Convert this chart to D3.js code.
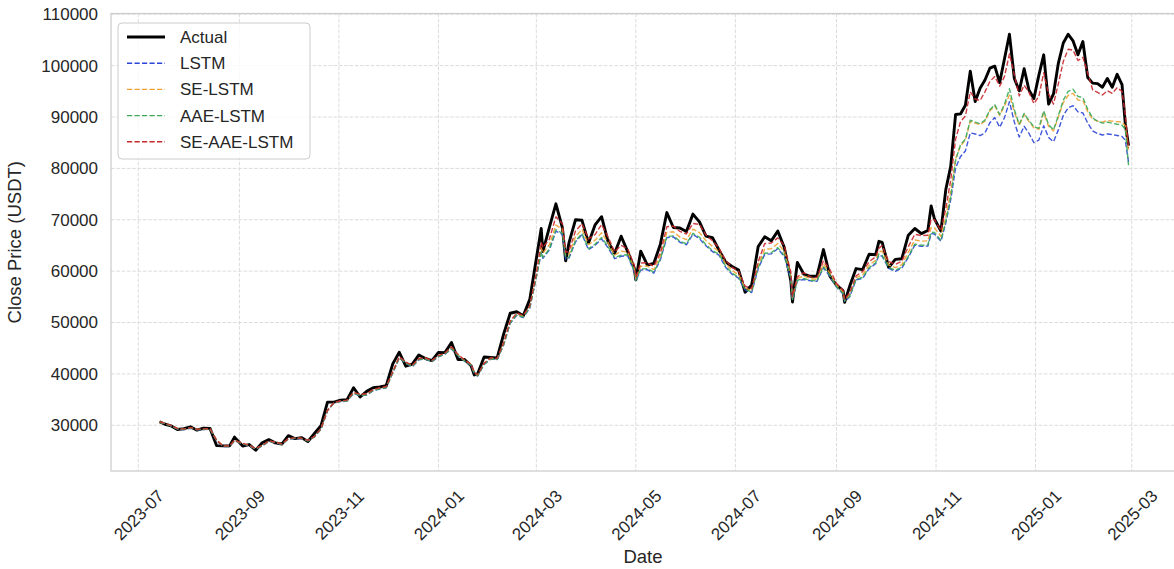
<!DOCTYPE html>
<html><head><meta charset="utf-8">
<script src="https://cdn.jsdelivr.net/npm/d3@7"></script>
<style>body{margin:0;background:#fff;} svg{display:block;font-family:"Liberation Sans",Arial,sans-serif;}</style>
</head><body><svg id="chart" width="1174" height="569"></svg>
<script>
const dates = [
"2023-07-14","2023-07-17","2023-07-21","2023-07-25","2023-07-29","2023-08-02","2023-08-06","2023-08-10","2023-08-14","2023-08-18",
"2023-08-22","2023-08-26","2023-08-29","2023-09-03","2023-09-07","2023-09-11","2023-09-15","2023-09-19","2023-09-23","2023-09-27",
"2023-10-01","2023-10-05","2023-10-09","2023-10-13","2023-10-17","2023-10-21","2023-10-25","2023-10-29","2023-11-02","2023-11-06",
"2023-11-10","2023-11-14","2023-11-18","2023-11-22","2023-11-26","2023-11-30","2023-12-04","2023-12-08","2023-12-12","2023-12-16",
"2023-12-20","2023-12-24","2023-12-28","2024-01-01","2024-01-05","2024-01-09","2024-01-13","2024-01-17","2024-01-21","2024-01-23",
"2024-01-25","2024-01-29","2024-02-02","2024-02-06","2024-02-10","2024-02-14","2024-02-18","2024-02-22","2024-02-26","2024-03-01",
"2024-03-04","2024-03-05","2024-03-09","2024-03-13","2024-03-17","2024-03-19","2024-03-21","2024-03-25","2024-03-29","2024-04-02",
"2024-04-06","2024-04-10","2024-04-14","2024-04-18","2024-04-22","2024-04-26","2024-04-30","2024-05-01","2024-05-04","2024-05-08",
"2024-05-12","2024-05-16","2024-05-20","2024-05-24","2024-05-28","2024-06-01","2024-06-05","2024-06-09","2024-06-13","2024-06-17",
"2024-06-21","2024-06-25","2024-06-29","2024-07-03","2024-07-07","2024-07-11","2024-07-15","2024-07-19","2024-07-23","2024-07-27",
"2024-07-31","2024-08-04","2024-08-05","2024-08-08","2024-08-12","2024-08-16","2024-08-20","2024-08-24","2024-08-28","2024-09-01",
"2024-09-05","2024-09-06","2024-09-09","2024-09-13","2024-09-17","2024-09-21","2024-09-25","2024-09-27","2024-09-29","2024-10-03",
"2024-10-07","2024-10-11","2024-10-15","2024-10-19","2024-10-23","2024-10-27","2024-10-29","2024-10-31","2024-11-04","2024-11-07",
"2024-11-10","2024-11-13","2024-11-16","2024-11-19","2024-11-22","2024-11-25","2024-11-28","2024-12-01","2024-12-04","2024-12-07",
"2024-12-10","2024-12-13","2024-12-16","2024-12-19","2024-12-22","2024-12-25","2024-12-28","2024-12-31","2025-01-03","2025-01-06",
"2025-01-09","2025-01-12","2025-01-15","2025-01-18","2025-01-21","2025-01-24","2025-01-27","2025-01-30","2025-02-02","2025-02-05",
"2025-02-08","2025-02-11","2025-02-14","2025-02-17","2025-02-20","2025-02-23","2025-02-25","2025-02-27"];

const actual = [
30700,30250,29900,29180,29350,29700,29050,29420,29400,26050,
26000,26000,27700,25950,26250,25150,26600,27200,26580,26350,
27980,27400,27600,26850,28400,29900,34500,34500,34900,35000,
37300,35500,36600,37300,37450,37700,41950,44200,41500,41900,
43700,43000,42600,44200,44150,46100,42800,42800,41600,39800,
40000,43300,43200,43100,47800,51800,52100,51300,54500,62400,
68300,63800,68500,73100,68400,62000,65500,70000,69900,65500,
69000,70600,65700,63500,66800,63800,60600,58300,63900,61200,
61500,65200,71400,68500,68400,67700,71100,69600,66800,66500,
64100,61800,60900,60200,55900,57300,64800,66700,65900,67800,
64600,58100,54000,61700,59400,59000,59000,64200,59000,57300,
56200,53950,57000,60500,60300,63300,63200,65800,65600,60700,
62300,62400,67000,68300,67300,67900,72700,70200,67800,75900,
80400,90500,90600,92300,98900,93000,95600,97200,99500,99900,
96700,101400,106100,97500,95100,99400,95200,93600,98100,102100,
92500,94500,100500,104400,106100,104800,102100,104700,97700,96600,
96500,95800,97500,95800,98300,96300,88700,84400];

const lstm = [
30600,30320,29870,29270,29140,29430,29120,29150,29260,27020,
25870,25850,26980,26380,26000,25370,25970,26850,26640,26280,
27290,27440,27380,26950,27730,29250,32820,34350,34600,34700,
36180,35750,35880,36720,37050,37270,40180,43100,42050,41420,
42750,42880,42380,43320,43820,44850,43550,42450,41650,40050,
39580,41850,42880,42780,45630,49870,51400,50970,52800,58770,
63530,62500,64130,67770,67170,62330,62530,65700,67130,64170,
65030,66270,64530,62430,62900,63000,59870,58070,60230,60300,
59600,62170,66530,66670,65630,65130,67170,66300,64930,63800,
63100,60770,59400,58630,56330,55830,60500,63270,63370,64370,
62870,58470,54370,58130,58370,58130,58000,60670,58930,56870,
55570,54100,54980,58330,58570,60500,61430,63130,62870,60530,
59970,60570,62670,65070,64830,64900,67300,67230,65800,69400,
73900,80100,82300,83400,86900,86700,86400,86900,88900,89900,
88000,89900,93000,89000,86100,88200,86800,85000,85500,88300,
86000,85200,87500,90300,91800,92200,91000,90800,88800,87300,
86800,86500,86700,86600,86400,86200,85500,81200];

const seLstm = [
30640,30390,29940,29340,29210,29500,29190,29220,29330,27090,
25940,25920,27050,26450,26070,25440,26040,26920,26710,26350,
27360,27510,27450,27020,27800,29320,32890,34420,34690,34830,
36350,35920,36050,36890,37220,37440,40350,43270,42220,41590,
42920,43050,42550,43490,43990,45100,43720,42620,41820,40220,
39750,42020,43050,42950,45880,50120,51650,51220,53080,59170,
64530,63500,65130,68970,68170,63030,63230,66700,68130,65170,
66030,67470,65530,63130,63900,63700,60570,58470,60930,61000,
60300,62870,67530,67670,66630,66130,68170,67500,65930,64800,
63800,61470,60100,59330,56730,56230,61200,64270,64370,65370,
63870,59170,54770,58530,59070,58530,58400,61370,59630,57270,
55970,54350,55380,58730,59270,61200,62130,63830,63870,61230,
60670,61270,63670,66070,65830,65900,68500,68430,66800,70600,
75500,81900,84400,85500,89200,88800,88500,89200,91200,92200,
90300,92200,94300,91000,88400,90500,89100,87900,87600,90800,
88200,87300,90000,92800,94200,94600,93300,93200,91000,89600,
89200,89000,89300,89200,89100,89000,88300,83500];

const aaeLstm = [
30600,30350,29900,29300,29170,29460,29150,29180,29290,27050,
25900,25880,27010,26410,26030,25400,26000,26880,26670,26310,
27320,27470,27410,26980,27760,29280,32850,34380,34650,34750,
36230,35800,35930,36770,37100,37320,40230,43150,42100,41470,
42800,42930,42430,43370,43870,44950,43600,42500,41700,40100,
39630,41900,42930,42830,45730,49970,51500,51070,52930,58870,
63730,62700,64330,68070,67370,62530,62730,65900,67330,64370,
65230,66570,64730,62630,63100,63200,60070,58170,60430,60500,
59800,62370,66730,66870,65830,65330,67370,66600,65130,64000,
63300,60970,59600,58830,56430,55930,60700,63470,63570,64570,
63070,58670,54470,58230,58570,58230,58100,60870,59130,56970,
55670,54200,55080,58430,58770,60700,61630,63330,63070,60730,
60170,60770,62870,65270,65030,65100,67600,67530,66000,69700,
74400,81600,84600,85700,89400,89000,88700,89400,91400,92400,
90500,92500,95500,91400,88600,90700,89300,88100,87800,91200,
88500,87500,90300,93300,95000,95400,94000,93800,91500,89800,
89200,88800,89000,88800,88600,88400,87600,80600];

const seAaeLstm = [
30680,30430,29980,29380,29250,29540,29230,29260,29370,27130,
25980,25960,27090,26490,26110,25480,26080,26960,26750,26390,
27400,27550,27490,27060,27840,29360,32930,34460,34730,34900,
36430,36000,36130,36970,37300,37520,40430,43350,42300,41670,
43000,43130,42630,43570,44070,45300,43800,42700,41900,40300,
39830,42100,43130,43030,46080,50320,51850,51420,53280,59520,
65630,64600,66230,70570,69270,63680,63880,67800,69230,66270,
67130,69070,66630,63780,65000,64350,61220,58820,61580,61650,
60950,63520,68630,68770,67730,67230,69270,69100,67030,65900,
64450,62120,60750,59980,57080,56580,61850,65370,65470,66470,
64970,59820,55120,58880,59720,58880,58750,62020,60280,57620,
56320,54550,55730,59080,59920,61850,62780,64480,64970,61880,
61320,61920,64770,67170,66930,67000,70100,70030,67900,72200,
77700,85700,89100,90200,94900,93500,93200,94900,96900,97900,
96000,97900,102300,98200,94100,96200,94800,92600,94000,98600,
94500,92500,96500,100800,103200,103000,101000,101600,98500,95300,
94800,94300,95100,94600,95700,95000,90500,84000];

const seriesNames = ["Actual","LSTM","SE-LSTM","AAE-LSTM","SE-AAE-LSTM"];
const seriesColors = ["#000000","#2a45d6","#f0a030","#3aaa5a","#c8282e"];
const yTicks = [30000,40000,50000,60000,70000,80000,90000,100000,110000];
const xTicks = ["2023-07-01","2023-09-01","2023-11-01","2024-01-01","2024-03-01","2024-05-01","2024-07-01","2024-09-01","2024-11-01","2025-01-01","2025-03-01"];
const xTickLabels = ["2023-07","2023-09","2023-11","2024-01","2024-03","2024-05","2024-07","2024-09","2024-11","2025-01","2025-03"];

(function(){
const parse = d3.utcParse("%Y-%m-%d");
const X = dates.map(parse);
const allSeries = [actual, lstm, seLstm, aaeLstm, seAaeLstm];

const svg = d3.select("#chart");
const pL = 111, pR = 1177, pT = 13.5, pB = 471;
const textColor = "#262626";

const xExt = d3.extent(X);
const xPad = (xExt[1] - xExt[0]) * 0.05;
const x = d3.scaleUtc().domain([new Date(+xExt[0] - xPad), new Date(+xExt[1] + xPad)]).range([pL, pR]);
const allVals = allSeries.flat();
const yMin = d3.min(allVals), yMax = d3.max(allVals);
const yPad = (yMax - yMin) * 0.05;
const y = d3.scaleLinear().domain([yMin - yPad, yMax + yPad]).range([pB, pT]);

svg.append("defs").append("clipPath").attr("id","clip").append("rect")
  .attr("x", pL).attr("y", pT).attr("width", pR-pL).attr("height", pB-pT);

const grid = svg.append("g");
grid.selectAll("line.h").data(yTicks).join("line").attr("class","h")
  .attr("x1", pL).attr("x2", pR).attr("y1", d=>y(d)).attr("y2", d=>y(d))
  .attr("stroke","#dcdcdc").attr("stroke-width",1).attr("stroke-dasharray","3.7,1.6");
grid.selectAll("line.v").data(xTicks).join("line").attr("class","v")
  .attr("x1", d=>x(parse(d))).attr("x2", d=>x(parse(d))).attr("y1", pT).attr("y2", pB)
  .attr("stroke","#dcdcdc").attr("stroke-width",1).attr("stroke-dasharray","3.7,1.6");

svg.append("rect").attr("x", pL).attr("y", pT).attr("width", pR-pL).attr("height", pB-pT)
  .attr("fill","none").attr("stroke","#cccccc").attr("stroke-width",1.25);

const yAxis = d3.axisLeft(y).tickValues(yTicks).tickSize(0).tickPadding(13).tickFormat(d3.format("d"));
const gy = svg.append("g").attr("transform", `translate(${pL},0)`).call(yAxis);
gy.select(".domain").remove();
gy.selectAll("text").attr("fill", textColor).style("font-size","17px").style("font-family",'"Liberation Sans",Arial,sans-serif');

const xAxis = d3.axisBottom(x).tickValues(xTicks.map(parse)).tickSize(0).tickFormat((d,i)=>xTickLabels[i]);
const gx = svg.append("g").attr("transform", `translate(0,${pB})`).call(xAxis);
gx.select(".domain").remove();
gx.selectAll("text").attr("fill", textColor).style("font-size","17px").style("font-family",'"Liberation Sans",Arial,sans-serif')
  .attr("y", 0).attr("dy", "0.35em").attr("text-anchor","middle")
  .attr("transform", "translate(0,44) rotate(-45)");

svg.append("text").attr("x", (pL+1175)/2).attr("y", 563).attr("text-anchor","middle")
  .attr("fill", textColor).style("font-size","18.5px").text("Date");
svg.append("text").attr("transform", `translate(21,${(pT+pB)/2}) rotate(-90)`).attr("text-anchor","middle")
  .attr("fill", textColor).style("font-size","18.5px").text("Close Price (USDT)");

const plot = svg.append("g").attr("clip-path","url(#clip)");
allSeries.forEach((vals, k) => {
  const pts = X.map((d,i)=>[d, vals[i]]).filter(p=>p[1]!=null);
  const line = d3.line().x(p=>x(p[0])).y(p=>y(p[1]));
  plot.append("path").datum(pts).attr("d", line)
    .attr("fill","none").attr("stroke", seriesColors[k])
    .attr("stroke-width", k===0 ? 2.9 : 1.4)
    .attr("stroke-linejoin","round")
    .attr("stroke-dasharray", k===0 ? null : "5.2,2.3")
    .attr("opacity", k===0 ? 1 : 0.9);
});

const lg = svg.append("g");
lg.append("rect").attr("x",118).attr("y",23).attr("width",192).attr("height",136).attr("rx",4)
  .attr("fill","#ffffff").attr("fill-opacity",0.8).attr("stroke","#cccccc").attr("stroke-width",1);
seriesNames.forEach((name,k)=>{
  const yy = 37 + k*26.2;
  lg.append("line").attr("x1",127).attr("x2",165).attr("y1",yy).attr("y2",yy)
    .attr("stroke", seriesColors[k]).attr("stroke-width", k===0 ? 2.9 : 1.4)
    .attr("stroke-dasharray", k===0 ? null : "5.2,2.3");
  lg.append("text").attr("x",180).attr("y",yy).attr("dy","0.35em").attr("fill",textColor)
    .style("font-size","17px").text(name);
});
})();
</script></body></html>
